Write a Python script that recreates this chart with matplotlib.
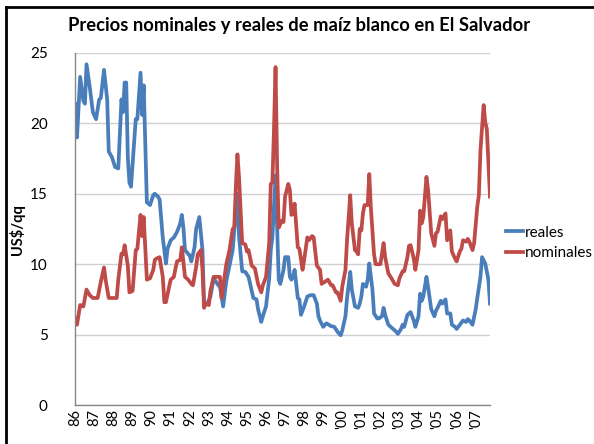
import matplotlib
matplotlib.use('Agg')
import matplotlib.pyplot as plt
from matplotlib.lines import Line2D
import numpy as np

plt.rcParams['font.family'] = ['Lato', 'DejaVu Sans']

# Data: month index from Jan 1986 and price (US$/qq), read at the line's vertices
reales_mes = [0, 1, 3, 5, 6, 7, 9, 11, 13, 15, 16, 18, 20, 21, 23, 25, 27, 29, 30, 31,
              32, 33, 34, 35, 38, 39, 41, 42, 43, 45, 47, 49, 50, 52, 53, 55, 57, 58, 60, 62,
              64, 66, 67, 68, 69, 72, 73, 75, 76, 78, 80, 81, 83, 85, 87, 90, 91, 93, 95, 97,
              99, 100, 102, 103, 105, 107, 109, 110, 112, 114, 115, 117, 118, 120, 122, 123, 124, 126, 127, 128,
              129, 130, 131, 132, 134, 135, 136, 137, 138, 140, 141, 142, 144, 146, 148, 150, 152, 153, 154, 156,
              158, 161, 163, 165, 167, 168, 170, 171, 173, 174, 176, 178, 179, 180, 181, 183, 184, 185, 187, 188,
              190, 191, 193, 194, 195, 197, 200, 202, 203, 205, 206, 207, 209, 211, 213, 214, 216, 217, 218, 219,
              221, 222, 224, 226, 227, 228, 230, 231, 233, 234, 236, 237, 239, 240, 242, 243, 244, 246, 247, 248,
              250, 252, 253, 255, 256, 258, 260, 261]
reales = [21.4, 19.0, 23.3, 21.6, 21.4, 24.2, 22.6, 20.8, 20.3, 21.7, 21.8, 23.8, 21.7, 18.0, 17.6, 16.9, 16.8, 21.7, 20.8, 22.9,
          22.9, 17.6, 15.8, 15.5, 20.3, 20.3, 23.6, 20.6, 22.7, 14.4, 14.2, 14.9, 15.0, 14.8, 14.6, 11.9, 10.05, 11.1, 11.7, 11.9,
          12.3, 12.9, 13.5, 12.6, 11.0, 10.6, 10.2, 11.2, 12.5, 13.35, 11.0, 7.2, 7.2, 7.7, 9.0, 8.5, 8.4, 7.0, 8.8, 9.9,
          11.0, 12.4, 15.0, 12.0, 9.5, 9.45, 9.1, 8.6, 7.6, 7.5, 6.8, 5.9, 6.3, 7.0, 9.0, 11.0, 11.9, 16.3, 12.6, 8.9,
          8.6, 9.1, 9.6, 10.5, 10.5, 9.1, 8.9, 9.1, 9.6, 7.6, 7.5, 6.4, 7.0, 7.7, 7.8, 7.8, 7.2, 6.3, 6.0, 5.55,
          5.8, 5.6, 5.55, 5.2, 4.95, 5.3, 6.3, 7.6, 9.45, 8.2, 7.0, 6.9, 7.2, 7.7, 8.6, 8.4, 8.9, 10.05, 8.2, 6.5,
          6.15, 6.15, 6.3, 6.9, 6.4, 5.7, 5.4, 5.2, 5.05, 5.4, 5.7, 5.55, 6.4, 6.6, 6.0, 5.55, 6.3, 7.9, 7.4, 7.7,
          9.1, 8.4, 6.8, 6.3, 6.7, 6.9, 7.4, 7.2, 7.5, 6.5, 6.5, 5.7, 5.55, 5.4, 5.7, 5.85, 6.0, 5.9, 6.1, 6.0,
          5.7, 6.8, 7.6, 9.1, 10.5, 10.05, 8.9, 7.2]

nominales_mes = [0, 1, 3, 5, 7, 9, 11, 14, 16, 18, 19, 21, 24, 26, 27, 29, 30, 31, 33, 34,
                 36, 38, 39, 41, 42, 43, 45, 47, 49, 50, 51, 53, 55, 56, 57, 59, 60, 62, 63, 64,
                 66, 67, 69, 71, 73, 74, 76, 77, 79, 80, 81, 82, 84, 85, 87, 89, 91, 92, 95, 97,
                 99, 100, 101, 102, 103, 105, 107, 108, 109, 111, 113, 115, 117, 118, 120, 122, 123, 124, 125, 126,
                 127, 128, 130, 131, 132, 134, 135, 136, 137, 138, 140, 141, 143, 144, 146, 147, 149, 150, 152, 154,
                 155, 157, 159, 161, 162, 164, 165, 167, 168, 170, 171, 173, 174, 176, 177, 178, 179, 180, 181, 182,
                 184, 185, 186, 188, 189, 191, 192, 194, 195, 197, 199, 201, 203, 204, 206, 207, 209, 210, 211, 213,
                 214, 216, 217, 218, 219, 221, 222, 224, 226, 227, 228, 230, 231, 233, 234, 236, 237, 239, 240, 242,
                 243, 244, 246, 247, 248, 250, 251, 253, 254, 255, 257, 258, 259, 261]
nominales = [6.15, 5.7, 7.1, 7.0, 8.2, 7.8, 7.6, 7.6, 8.75, 9.77, 8.9, 7.6, 7.6, 7.6, 8.9, 10.75, 10.7, 11.35, 9.9, 8.0,
             8.1, 11.0, 11.1, 13.5, 12.0, 13.35, 8.9, 9.0, 9.6, 10.3, 10.4, 10.5, 9.1, 7.3, 7.3, 8.4, 8.9, 9.1, 9.7, 10.2,
             10.3, 11.2, 9.1, 8.9, 8.6, 8.5, 9.8, 10.7, 11.0, 9.6, 6.9, 7.2, 7.1, 8.1, 9.1, 9.1, 9.1, 7.6, 10.0, 11.0,
             12.5, 12.6, 15.5, 17.8, 16.2, 11.5, 11.4, 10.9, 11.0, 9.9, 9.7, 8.6, 8.0, 8.5, 9.1, 11.5, 15.7, 15.8, 19.5, 24.0,
             16.9, 12.6, 13.1, 13.0, 14.8, 15.7, 15.3, 13.5, 13.6, 14.3, 11.2, 11.1, 9.6, 10.3, 11.9, 11.7, 12.0, 11.9, 9.9, 9.6,
             8.6, 8.75, 8.9, 8.5, 8.5, 8.0, 8.0, 7.4, 8.4, 9.6, 11.7, 14.9, 12.9, 11.0, 10.9, 10.7, 12.5, 12.4, 13.6, 14.2,
             14.2, 16.4, 14.0, 10.7, 10.0, 10.0, 10.0, 11.5, 10.5, 9.35, 9.0, 8.6, 8.5, 9.0, 9.5, 9.5, 10.5, 11.3, 11.35, 10.4,
             9.6, 11.0, 13.8, 12.9, 13.35, 16.2, 15.3, 12.2, 11.3, 12.2, 12.3, 13.4, 13.2, 13.6, 11.7, 12.4, 10.9, 10.4, 10.2, 10.9,
             11.1, 11.7, 11.6, 11.8, 11.6, 11.0, 11.5, 14.1, 14.9, 18.1, 21.3, 20.1, 19.6, 14.8]

anios = list(range(1986, 2008))
etiquetas = ['86', '87', '88', '89', '90', '91', '92', '93', '94', '95', '96', '97', '98', '99',
             "'00", "'01", "'02", "'03", "'04", "'05", "'06", "'07"]

azul = '#4a7ebb'
rojo = '#be4b48'

fig = plt.figure(figsize=(5.94, 4.44), dpi=100)
ax = fig.add_axes([75.4 / 594, 1 - 405 / 444, (490 - 75.4) / 594, (405 - 53) / 444])

x_r = 1986 + np.array(reales_mes) / 12
x_n = 1986 + np.array(nominales_mes) / 12
ax.plot(x_r, reales, color=azul, lw=2.7, label='reales', solid_joinstyle='round')
ax.plot(x_n, nominales, color=rojo, lw=2.7, label='nominales', solid_joinstyle='round')

ax.set_xlim(1986, 1986 + 261 / 12)
ax.set_ylim(0, 25)
ax.set_yticks([0, 5, 10, 15, 20, 25])
ax.set_xticks(anios)
ax.set_xticklabels(etiquetas, rotation=90)
ax.tick_params(axis='both', length=0, labelsize=10.5, colors='black')
ax.tick_params(axis='y', pad=20, labelsize=11)
ax.tick_params(axis='x', pad=3)
ax.grid(axis='y', color='#d0d0d0', lw=1)
ax.set_axisbelow(True)
for s in ['top', 'right']:
    ax.spines[s].set_visible(False)
for s in ['left', 'bottom']:
    ax.spines[s].set_color('#868686')
    ax.spines[s].set_linewidth(1)

fig.text(0.503, 1 - 26 / 444, 'Precios nominales y reales de maíz blanco en El Salvador',
         ha='center', va='center', fontsize=13.2, fontweight='bold')
fig.text(17 / 594, 1 - 230 / 444, 'US$/qq', rotation=90, ha='center', va='center',
         fontsize=10.5, fontweight='bold')

ax.legend(loc='center left', bbox_to_anchor=(500 / 594, 1 - 243 / 444),
          bbox_transform=fig.transFigure, frameon=False, fontsize=11,
          handlelength=1.1, handletextpad=0.1, labelspacing=0.45, borderaxespad=0)

# chart border (left and top edges visible)
fig.add_artist(Line2D([6 / 594, 6 / 594], [-0.05, 1 - 7 / 444], color='black', lw=2,
                      transform=fig.transFigure))
fig.add_artist(Line2D([6 / 594, 1.05], [1 - 7 / 444, 1 - 7 / 444], color='black', lw=2,
                      transform=fig.transFigure))

fig.savefig('out.png', dpi=100)
